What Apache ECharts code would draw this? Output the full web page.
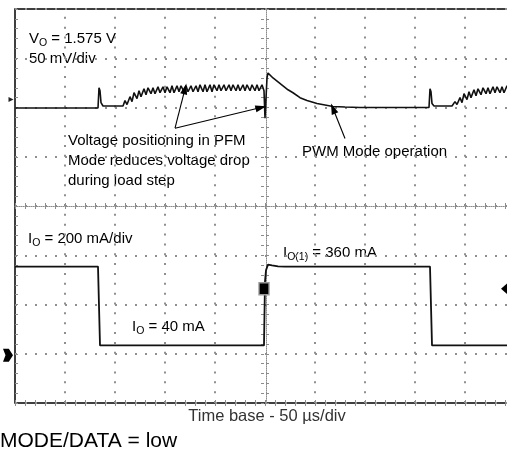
<!DOCTYPE html>
<html>
<head>
<meta charset="utf-8">
<script src="https://cdn.jsdelivr.net/npm/echarts@6/dist/echarts.min.js"></script>
<style>
  html, body { margin: 0; padding: 0; background: #fff; }
  #chart { width: 507px; height: 467px; }
</style>
</head>
<body>
<div id="chart"></div>
<script>
// Load-step scope capture: output voltage (AC, 50 mV/div) and load current (200 mA/div),
// time base 50 us/div. Voltage values are mV deviation from the 1.575 V PWM level.

// ---- output voltage trace, [time us, mV] ----
const voIdle = [[0, -0.5], [83, -0.5]];
const voSpike1 = [[84, 20], [85, 17], [86, 5], [88, 1.5], [100, 1.5], [108, 1.5]];
const voPfmBurst1 = [
  [110, 7], [112, 3], [115, 11], [117, 6], [119, 15], [122, 9], [124, 17], [126, 11],
  [129, 19], [131, 13], [133, 20], [136, 14], [138, 20], [140, 14], [143, 21], [145, 15],
  [148, 21], [150, 15], [152, 21], [155, 15], [157, 22], [159, 15], [162, 22], [164, 16],
  [166, 22], [169, 16], [171, 22], [173, 16], [176, 22], [178, 16], [181, 22], [183, 16],
  [185, 23], [188, 16], [190, 23], [192, 16], [195, 23], [197, 16], [199, 23], [202, 17],
  [204, 23], [206, 17], [209, 23], [211, 17], [214, 23], [216, 17], [218, 23], [221, 17],
  [223, 23], [225, 17], [228, 23], [230, 17], [232, 23], [235, 17], [237, 23], [240, 17],
  [242, 23], [244, 17], [247, 23], [249, 17]
];
const voLoadStep = [
  [250, -11], [251, -11], [252, 30], [253, 35], [258, 30], [263, 26], [268, 22], [273, 18],
  [278, 15], [285, 10], [292, 7], [302, 4], [310, 2.5], [318, 1], [330, 0.5], [345, 0], [414, 0]
];
const voSpike2 = [[415, 19], [416, 16], [417, 4], [419, 1.5], [437, 1.5]];
const voPfmBurst2 = [
  [439, 2], [440, 6], [442, 3], [445, 10], [447, 5], [449, 14], [452, 8], [454, 16],
  [456, 10], [459, 18], [461, 12], [463, 19], [466, 13], [468, 20], [471, 14], [473, 20],
  [475, 14], [478, 21], [480, 15], [482, 21], [485, 15], [487, 21], [489, 15], [492, 22],
  [494, 16], [497, 22], [499, 16], [500, 19]
];

// ---- load current trace, [time us, mA] ----
const ioHigh = 360;
const ioLow = 40;
const ioTrace = [
  [0, ioHigh], [83, ioHigh], [85, ioLow], [249, ioLow], [250, 300], [251, 345], [253, 368],
  [257, 365], [263, 361], [270, ioHigh], [415, ioHigh], [417, ioLow], [500, ioLow]
];
const triggerLevel = 270;

// ---- graticule: time divisions (50 us/div) ----
const timeDivisions = [50, 100, 150, 200, 300, 350, 400, 450];

// ---- annotation arrows, [time us, mV] start -> end ----
const arrowPfmA = [[160, -21], [170, 19]];
const arrowPfmB = [[160, -21], [246, 0]];
const arrowPwm = [[330, -31.5], [318, -1]];

const voTrace = [].concat(voIdle, voSpike1, voPfmBurst1, voLoadStep, voSpike2, voPfmBurst2);

const FONT = '"Liberation Sans", Arial, Helvetica, sans-serif';
const GRID_RECT = { left: 15, top: 9, width: 500, height: 394, outerBoundsMode: 'none', containLabel: false };
const DOT = '#8f8f8f';
const TICK = '#8c8c8c';

function gridBox(extra) { return Object.assign({}, GRID_RECT, extra || {}); }

function divAxis(gridIndex, max, position, offset, opts) {
  return Object.assign({
    type: 'value', gridIndex: gridIndex, min: 0, max: max, interval: 0.2,
    position: position, offset: offset,
    axisLine: { show: false },
    axisTick: { show: true, length: 3, lineStyle: { color: TICK, width: 1 } },
    axisLabel: { show: false },
    splitLine: { show: false }
  }, opts || {});
}

function hiddenAxis(gridIndex, position) {
  return { type: 'value', gridIndex: gridIndex, min: 0, max: 1, position: position, show: false };
}

function arrowLine(pair) {
  return [{ coord: pair[0] }, { coord: pair[1] }];
}

function rich(parts, x, y) {
  return {
    type: 'text', x: x, y: y, silent: true,
    style: {
      text: parts, align: 'left', verticalAlign: 'middle',
      rich: {
        m: { fontSize: 15, fontFamily: FONT, lineHeight: 16, verticalAlign: 'top', fill: '#000' },
        s: { fontSize: 10.5, fontFamily: FONT, lineHeight: 11, padding: [6.5, 0, 0, 0], verticalAlign: 'top', fill: '#000' }
      }
    }
  };
}

function plain(text, x, y, size, align, color) {
  return {
    type: 'text', x: x, y: y, silent: true,
    style: {
      text: text, fontSize: size, fontFamily: FONT, fill: color || '#000',
      align: align || 'left', verticalAlign: 'middle'
    }
  };
}

const chart = echarts.init(document.getElementById('chart'), null, { renderer: 'canvas' });

chart.setOption({
  animation: false,
  backgroundColor: '#fff',
  grid: [
    gridBox({ show: true, borderColor: '#000', borderWidth: 1.5, backgroundColor: 'transparent' }),
    gridBox(), gridBox(), gridBox(), gridBox()
  ],
  xAxis: [
    { // time base
      type: 'value', gridIndex: 0, min: 0, max: 500, interval: 50, position: 'bottom',
      axisLine: { show: false }, axisTick: { show: false }, axisLabel: { show: false },
      splitLine: { show: false }
    },
    divAxis(1, 10, 'top', -197, { axisLine: { show: true, lineStyle: { color: TICK, width: 1, type: [1, 1] } } }),
    divAxis(2, 10, 'bottom', -197),
    divAxis(3, 10, 'top', 0, { axisTick: { show: true, inside: true, length: 3, lineStyle: { color: TICK, width: 1 } } }),
    divAxis(4, 10, 'bottom', 0, { axisTick: { show: true, inside: true, length: 3, lineStyle: { color: TICK, width: 1 } } })
  ],
  yAxis: [
    { // output voltage, 50 mV/div
      type: 'value', gridIndex: 0, min: -300, max: 100, interval: 50, position: 'left',
      axisLine: { show: false }, axisTick: { show: false }, axisLabel: { show: false },
      splitLine: { show: true, lineStyle: { color: DOT, width: 2, type: [2, 8] } }
    },
    { // load current, 200 mA/div
      type: 'value', gridIndex: 0, min: -194, max: 1406, position: 'right', show: false,
      splitLine: { show: false }
    },
    divAxis(1, 8, 'right', -251, { axisLine: { show: true, lineStyle: { color: TICK, width: 1, type: [1, 1] } } }),
    divAxis(2, 8, 'left', -249),
    divAxis(3, 8, 'left', 0, { axisTick: { show: true, inside: true, length: 3, lineStyle: { color: TICK, width: 1 } } }),
    hiddenAxis(4, 'right')
  ],
  series: [
    {
      name: 'VO', type: 'line', xAxisIndex: 0, yAxisIndex: 0, data: voTrace, z: 3,
      showSymbol: false, symbol: 'none', silent: true,
      lineStyle: { color: '#111', width: 1.6 },
      markLine: {
        silent: true, symbol: ['none', 'triangle'], symbolSize: [7, 11], precision: 3,
        label: { show: false },
        lineStyle: { color: '#000', width: 1.1, type: 'solid' },
        data: [arrowLine(arrowPfmA), arrowLine(arrowPfmB), arrowLine(arrowPwm)]
      },
      markPoint: {
        silent: true, label: { show: false },
        data: [
          { coord: [0, 8], symbol: 'triangle', symbolSize: [5, 5], symbolRotate: -90, symbolOffset: [-4, 0],
            itemStyle: { color: '#222' } }
        ]
      }
    },
    {
      name: 'IO', type: 'line', xAxisIndex: 0, yAxisIndex: 1, data: ioTrace, z: 3,
      showSymbol: false, symbol: 'none', silent: true,
      lineStyle: { color: '#111', width: 1.8 },
      markLine: {
        silent: true, symbol: ['none', 'none'], precision: 3, z: 1,
        label: { show: false },
        lineStyle: { color: DOT, width: 2, type: [2, 7.85] },
        data: timeDivisions.map(function (t) { return { xAxis: t }; })
      },
      markPoint: {
        silent: true, label: { show: false },
        data: [
          { coord: [0, 0], symbol: 'path://M0,0 L7,0 L12,6 L7,12 L0,12 L3,6 Z', symbolSize: [10, 13],
            symbolOffset: [-7, 0], itemStyle: { color: '#000' } },
          { coord: [250, triggerLevel], symbol: 'rect', symbolSize: [10, 12], symbolOffset: [-1, 0],
            itemStyle: { color: '#000', borderColor: '#999', borderWidth: 1.5 } },
          { coord: [493, triggerLevel], symbol: 'diamond', symbolSize: [14, 12],
            itemStyle: { color: '#000' } }
        ]
      }
    }
  ],
  graphic: [
    rich('{m|V}{s|O}{m| = 1.575 V}', 29, 39),
    plain('50 mV/div', 29, 59, 15),
    plain('Voltage positioning in PFM', 68, 141, 15),
    plain('Mode reduces voltage drop', 68, 161, 15),
    plain('during load step', 68, 181, 15),
    plain('PWM Mode operation', 302, 152, 15),
    rich('{m|I}{s|O}{m| = 200 mA/div}', 28, 239),
    rich('{m|I}{s|O}{m| = 40 mA}', 132, 327),
    rich('{m|I}{s|O(1)}{m| = 360 mA}', 283, 253),
    plain('Time base - 50 µs/div', 267, 416, 16.5, 'center', '#333'),
    plain('MODE/DATA = low', 0, 441, 21)
  ]
});
</script>
</body>
</html>
